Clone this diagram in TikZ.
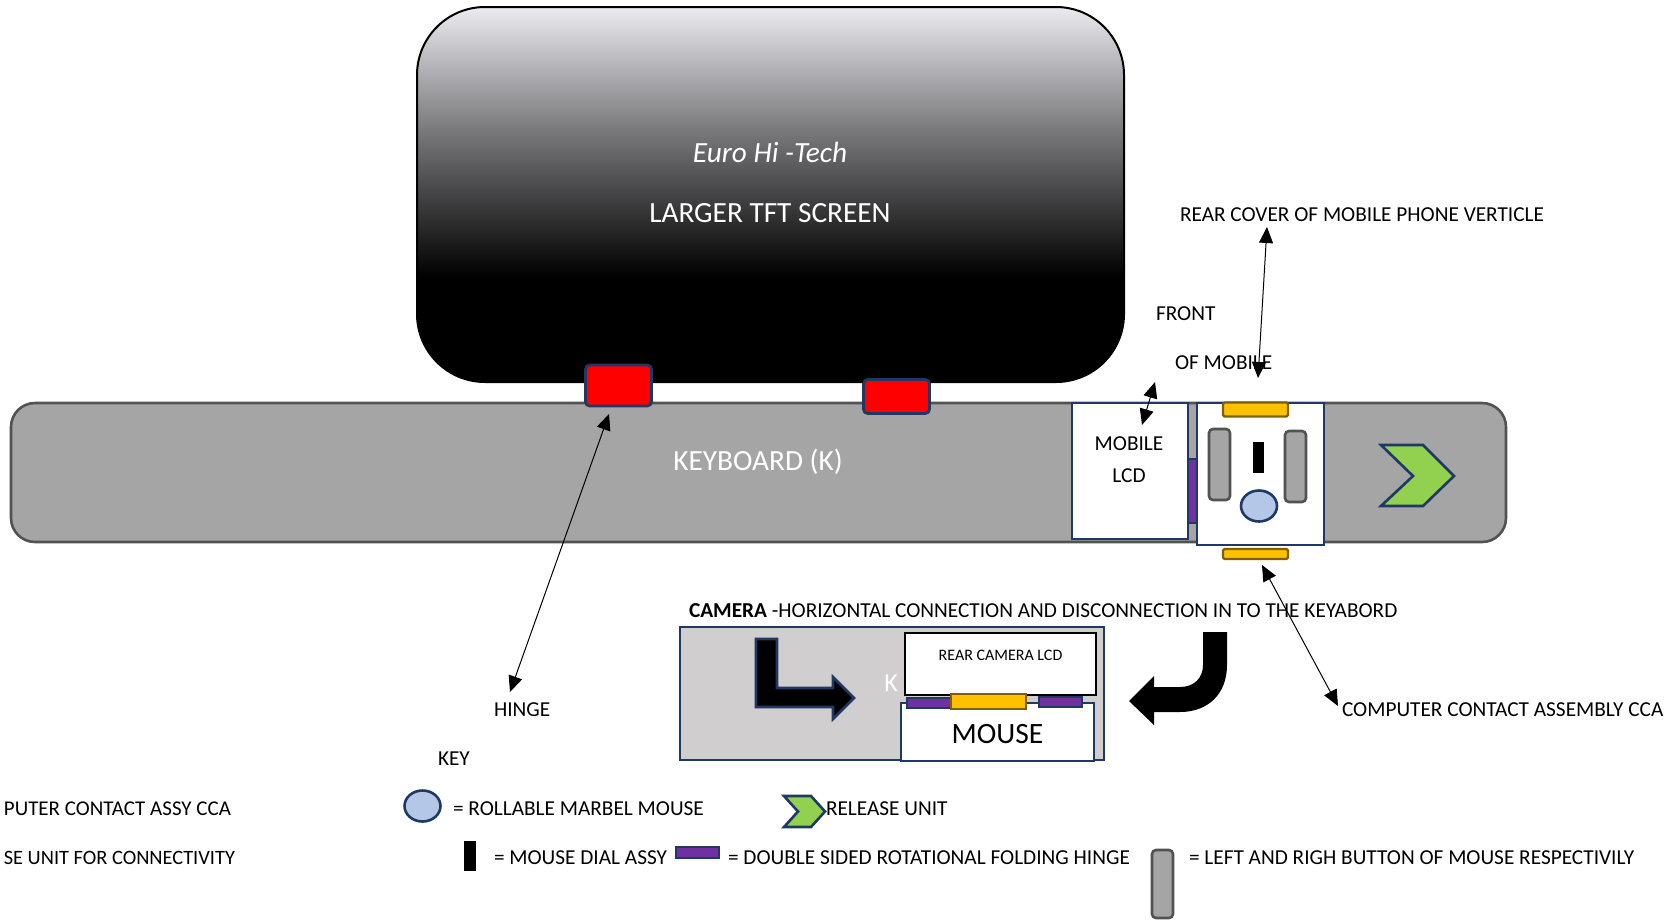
\documentclass[tikz,border=0pt]{standalone}
\usepackage{fontspec}
\setmainfont{Carlito}
\usetikzlibrary{arrows.meta, shapes.geometric, positioning, calc}

\definecolor{navy}{HTML}{1F3864}
\definecolor{greyfill}{HTML}{A5A5A5}
\definecolor{greyline}{HTML}{525252}
\definecolor{panelgrey}{HTML}{D0CECE}
\definecolor{amber}{HTML}{FFC000}
\definecolor{amberline}{HTML}{7F6000}
\definecolor{hingepurple}{HTML}{7030A0}
\definecolor{leaf}{HTML}{92D050}
\definecolor{ballblue}{HTML}{B4C7E7}

\pgfdeclareverticalshading{screenshade}{100bp}{
  rgb(0bp)=(0,0,0); rgb(39bp)=(0,0,0); rgb(58bp)=(0.46,0.46,0.47);
  rgb(75bp)=(0.92,0.92,0.94); rgb(100bp)=(0.92,0.92,0.94)}

\tikzset{
  part/.style={rectangle, inner sep=0pt, outer sep=0pt},
  label/.style={inner sep=0pt, outer sep=0pt, anchor=west},
  lightlabel/.style={inner sep=0pt, outer sep=0pt, text=white},
  redhinge/.style={part, rounded corners=4pt, fill=red, draw=navy, line width=2.6pt, minimum width=66pt},
  whitebox/.style={part, fill=white, draw=navy, line width=2.8pt},
  contact/.style={part, rounded corners=1.5pt, fill=amber, draw=amberline, line width=2.2pt, minimum width=65pt},
  foldhinge/.style={part, fill=hingepurple, draw=navy, line width=2.6pt},
  mousebutton/.style={part, rounded corners=4pt, fill=greyfill, draw=greyline, line width=2.6pt, minimum width=21pt},
  dial/.style={part, fill=black},
  ball/.style={ellipse, inner sep=0pt, outer sep=0pt, fill=ballblue, draw=navy, line width=2.6pt, minimum width=36pt, minimum height=31pt},
  release/.style={fill=leaf, draw=navy, line width=2.6pt, line join=miter},
  pointer/.style={line width=1pt, {Triangle[length=16pt,width=14pt]}-{Triangle[length=16pt,width=14pt]}},
}

\begin{document}
\begin{tikzpicture}[x=1pt, y=-1pt, font=\fontsize{21.3}{25}\selectfont]
  \useasboundingbox (0,0) rectangle (1673,919);

  % screen and keyboard
  \node[part, rounded corners=68pt, shading=screenshade, draw=black, line width=2pt, minimum width=707pt, minimum height=375pt] (screen) at (770.5,194.5) {};
  \node[part, rounded corners=24pt, fill=greyfill, draw=greyline, line width=2.6pt, minimum width=1495pt, minimum height=139pt] (keyboard) at (758.5,472.5) {};
  \node[redhinge, minimum height=41pt] (hingea) at (618.5,385.5) {};
  \node[redhinge, minimum height=34pt] (hingeb) at (896.5,396.5) {};

  \node[lightlabel, font=\fontsize{29.3}{34}\selectfont\itshape] (brand) at (770,152) {Euro Hi -Tech};
  \node[lightlabel, font=\fontsize{29.3}{34}\selectfont] (screentext) at (770,213) {LARGER TFT SCREEN};
  \node[lightlabel, font=\fontsize{29.3}{34}\selectfont] (keytext) at (758,462) {KEYBOARD (K)};

  % mobile on the keyboard
  \node[foldhinge, minimum width=11pt, minimum height=64pt] (mobilefold) at (1192.5,491) {};
  \node[whitebox, minimum width=116pt, minimum height=136pt] (mobile) at (1130,471) {};
  \node[whitebox, minimum width=127pt, minimum height=142pt] (phone) at (1260.5,474) {};
  \node[contact, minimum height=14pt] (contacttop) at (1255.5,409.5) {};
  \node[contact, minimum height=10pt] (contactbottom) at (1255.5,554) {};
  \node[mousebutton, minimum height=71pt] (leftbutton) at (1219.5,464.5) {};
  \node[mousebutton, minimum height=71pt] (rightbutton) at (1295.5,466.5) {};
  \node[dial, minimum width=11pt, minimum height=31pt] (mousedial) at (1258.5,457.5) {};
  \node[ball] (mouseball) at (1259,506) {};
  \draw[release] (1381,445) -- (1423,445) -- (1454,476) -- (1423,506) -- (1381,506) -- (1413,476) -- cycle;

  \node[inner sep=0pt] (mobiletext) at (1129,444) {MOBILE};
  \node[inner sep=0pt] (lcdtext) at (1129,476) {LCD};
  \node[label] (front) at (1156,314) {FRONT};
  \node[label] (ofmobile) at (1175,363) {OF MOBILE};
  \node[label] (rearcover) at (1180,215) {REAR COVER OF MOBILE PHONE VERTICLE};
  \node[label] (hingetext) at (494,710) {HINGE};
  \node[label] (ccatext) at (1342,710) {COMPUTER CONTACT ASSEMBLY CCA};
  \node[label] (cameratext) at (689,611) {\textbf{CAMERA} -HORIZONTAL CONNECTION AND DISCONNECTION IN TO THE KEYABORD};

  % pointers
  \coordinate (reartop) at (1267,227);
  \coordinate (rearend) at (1258,378);
  \coordinate (fronttop) at (1155,382);
  \coordinate (frontend) at (1142,425);
  \coordinate (hingetop) at (609,414);
  \coordinate (hingeend) at (510,692);
  \coordinate (ccatop) at (1262,565);
  \coordinate (ccaend) at (1338,706);
  \draw[pointer] (reartop) -- (rearend);
  \draw[pointer] (fronttop) -- (frontend);
  \draw[pointer] (hingetop) -- (hingeend);
  \draw[pointer] (ccatop) -- (ccaend);

  % camera panel
  \node[part, fill=panelgrey, draw=navy, line width=2.6pt, minimum width=424pt, minimum height=133pt] (panel) at (892,693.5) {};
  \node[part, fill=white, draw=black, line width=2.8pt, minimum width=191pt, minimum height=62pt] (rearlcd) at (1000.5,664) {};
  \node[whitebox, minimum width=193pt, minimum height=58pt] (mousebox) at (997.5,732) {};
  \node[foldhinge, minimum width=44pt, minimum height=10pt] (folda) at (929,703) {};
  \node[foldhinge, minimum width=43pt, minimum height=10pt] (foldb) at (1060.5,702) {};
  \node[part, fill=amber, draw=amberline, line width=2.6pt, minimum width=75pt, minimum height=15pt] (contactmid) at (988.5,701.5) {};
  \node[inner sep=0pt, font=\fontsize{16}{19}\selectfont] (rearlcdtext) at (1000.5,655.5) {REAR CAMERA LCD};
  \node[inner sep=0pt, font=\fontsize{29.5}{34}\selectfont] (mousetext) at (997.5,734.5) {MOUSE};
  \node[lightlabel, font=\fontsize{26}{30}\selectfont] (ktext) at (891,683) {K};
  \draw[fill=black, draw=navy, line width=2.6pt] (756,639) -- (777,639) -- (777,688) -- (833,688) -- (833,677) -- (854,698) -- (833,719) -- (833,707) -- (756,707) -- cycle;
  \fill[black] (1203,632) -- (1227,632) -- (1227,665) .. controls (1227,694) and (1208,712) .. (1180,712) -- (1154,712) -- (1154,725) -- (1129,701) -- (1154,676) -- (1154,687) -- (1180,687) .. controls (1194,687) and (1203,678) .. (1203,665) -- cycle;

  % key
  \node[label] (keytitle) at (438,759) {KEY};
  \node[label, anchor=east, font=\fontsize{21}{25}\selectfont] (keycca) at (231,809) {PUTER CONTACT ASSY CCA};
  \node[label, anchor=east, font=\fontsize{20.4}{25}\selectfont] (keyunit) at (235,858) {SE UNIT FOR CONNECTIVITY};
  \node[ball] (keyball) at (422.5,806) {};
  \node[label] (keyballtext) at (453,809) {= ROLLABLE MARBEL MOUSE};
  \draw[release] (784,796) -- (811,796) -- (825,811.5) -- (811,827) -- (784,827) -- (798,811.5) -- cycle;
  \node[label] (keyrelease) at (826,809) {RELEASE UNIT};
  \node[dial, minimum width=12pt, minimum height=30pt] (keydial) at (469.5,856) {};
  \node[label] (keydialtext) at (494,858) {= MOUSE DIAL ASSY};
  \node[foldhinge, minimum width=43pt, minimum height=11pt] (keyfold) at (697.5,852.5) {};
  \node[label] (keyfoldtext) at (728,858) {= DOUBLE SIDED ROTATIONAL FOLDING HINGE};
  \node[mousebutton, minimum height=68pt] (keybutton) at (1162.5,884) {};
  \node[label] (keybuttontext) at (1189,858) {= LEFT AND RIGH BUTTON OF MOUSE RESPECTIVILY};
\end{tikzpicture}
\end{document}
